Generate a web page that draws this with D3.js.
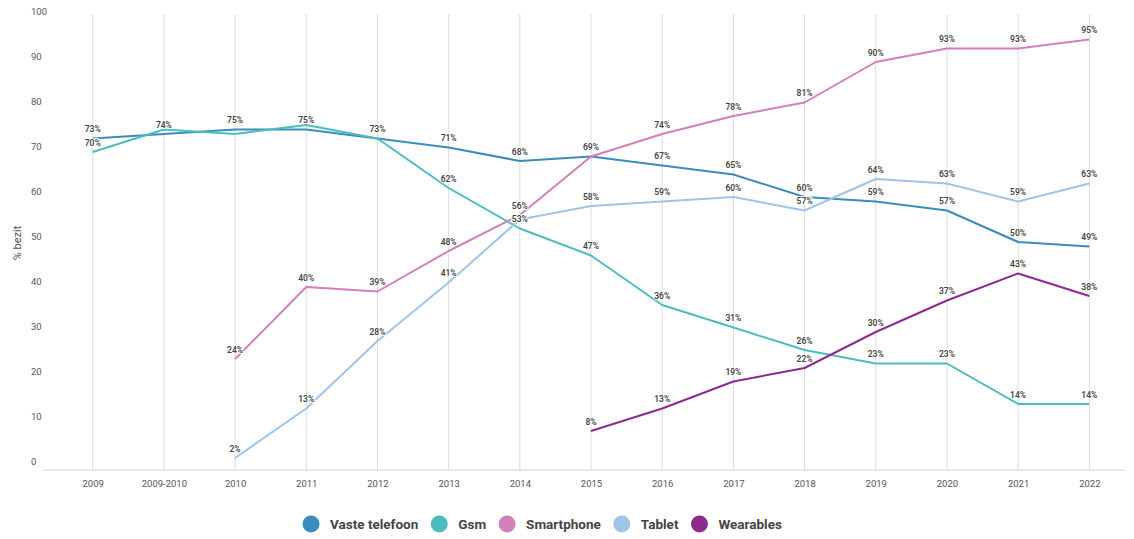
<!DOCTYPE html>
<html>
<head>
<meta charset="utf-8">
<script src="https://cdn.jsdelivr.net/npm/d3@7"></script>
<style>
  body { margin: 0; background: #fff; }
  svg text { font-family: Roboto, "Open Sans", sans-serif; }
</style>
</head>
<body>
<div id="chart"></div>
<script>
// categories on the x axis
var years = ["2009", "2009-2010", "2010", "2011", "2012", "2013", "2014", "2015",
             "2016", "2017", "2018", "2019", "2020", "2021", "2022"];

var seriesNames = ["Vaste telefoon", "Gsm", "Smartphone", "Tablet", "Wearables"];
var seriesColors = ["#3a8cba", "#4cbdbf", "#d27fba", "#a0c4e8", "#8c2a8e"];

// % bezit per year (null = not asked that year)
var vasteTelefoon = [73, 74, 75, 75, 73, 71, 68, 69, 67, 65, 60, 59, 57, 50, 49];
var gsm           = [70, 75, 74, 76, 73, 62, 53, 47, 36, 31, 26, 23, 23, 14, 14];
var smartphone    = [null, null, 24, 40, 39, 48, 56, 69, 74, 78, 81, 90, 93, 93, 95];
var tablet        = [null, null, 2, 13, 28, 41, 55, 58, 59, 60, 57, 64, 63, 59, 63];
var wearables     = [null, null, null, null, null, null, null, 8, 13, 19, 22, 30, 37, 43, 38];

// labels that sit under another series' label in the original
var hiddenLabels = {"Gsm": ["2009-2010", "2010", "2011", "2012"], "Tablet": ["2014"]};

var yTicks = [0, 10, 20, 30, 40, 50, 60, 70, 80, 90, 100];

var allValues = [vasteTelefoon, gsm, smartphone, tablet, wearables];

var width = 1134, height = 539;

var svg = d3.select("#chart").append("svg")
    .attr("width", width)
    .attr("height", height);

var x = d3.scalePoint()
    .domain(years)
    .range([92.7, 1089.3]);

var y = d3.scaleLinear()
    .domain([0, 100])
    .range([467, 17]);

// vertical grid lines
svg.append("g").selectAll("line")
    .data(years)
    .enter().append("line")
    .attr("x1", function(d){ return x(d); })
    .attr("x2", function(d){ return x(d); })
    .attr("y1", 14)
    .attr("y2", 470)
    .attr("stroke", "#dcdcdc")
    .attr("stroke-width", 1);

// baseline
svg.append("line")
    .attr("x1", 43).attr("x2", 1125)
    .attr("y1", 470).attr("y2", 470)
    .attr("stroke", "#d0d0d0");

// y tick labels (sit a bit above their value)
svg.append("g").selectAll("text")
    .data(yTicks)
    .enter().append("text")
    .attr("x", 31)
    .attr("y", function(d){ return y(d) - 5; })
    .attr("dy", "0.35em")
    .attr("font-size", 9.5)
    .attr("fill", "#555")
    .text(function(d){ return d; });

// x axis labels
var xAxis = d3.axisBottom(x).tickSize(0).tickPadding(6);
var gx = svg.append("g")
    .attr("transform", "translate(0,474)")
    .call(xAxis);
gx.select(".domain").remove();
gx.selectAll("text")
    .attr("font-size", 9.5)
    .attr("fill", "#555")
    .attr("font-family", "Roboto, sans-serif");

// y axis title
svg.append("text")
    .attr("transform", "translate(21,243) rotate(-90)")
    .attr("text-anchor", "middle")
    .attr("font-size", 11)
    .attr("fill", "#555")
    .text("% bezit");

// lines
var line = d3.line()
    .defined(function(d){ return d.v != null; })
    .x(function(d){ return x(d.year); })
    .y(function(d){ return y(d.v); });

var series = seriesNames.map(function(name, i){
    return {
        name: name,
        color: seriesColors[i],
        points: years.map(function(yr, j){ return {year: yr, v: allValues[i][j]}; })
    };
});

svg.append("g").selectAll("path")
    .data(series)
    .enter().append("path")
    .attr("d", function(d){ return line(d.points); })
    .attr("fill", "none")
    .attr("stroke", function(d){ return d.color; })
    .attr("stroke-width", 2)
    .attr("stroke-linejoin", "round");

// value labels
var labelData = [];
series.forEach(function(s){
    var hide = hiddenLabels[s.name] || [];
    s.points.forEach(function(p){
        if (p.v != null && hide.indexOf(p.year) < 0) labelData.push(p);
    });
});

svg.append("g").selectAll("text")
    .data(labelData)
    .enter().append("text")
    .attr("x", function(d){ return x(d.year); })
    .attr("y", function(d){ return y(d.v) - 9; })
    .attr("dy", "0.35em")
    .attr("text-anchor", "middle")
    .attr("font-size", 8.5)
    .attr("font-weight", 600)
    .attr("fill", "#444")
    .attr("paint-order", "stroke")
    .attr("stroke", "#fff")
    .attr("stroke-width", 2)
    .text(function(d){ return d.v + "%"; });

// legend
var legend = svg.append("g").attr("transform", "translate(0,524)");
var lx = 311;
seriesNames.forEach(function(name, i){
    legend.append("circle")
        .attr("cx", lx).attr("cy", 0).attr("r", 8.5)
        .attr("fill", seriesColors[i]);
    var t = legend.append("text")
        .attr("x", lx + 19).attr("y", 0).attr("dy", "0.35em")
        .attr("font-size", 13.5)
        .attr("font-weight", 700)
        .attr("fill", "#444")
        .text(name);
    lx += 19 + t.node().getComputedTextLength() + 21;
});
</script>
</body>
</html>
